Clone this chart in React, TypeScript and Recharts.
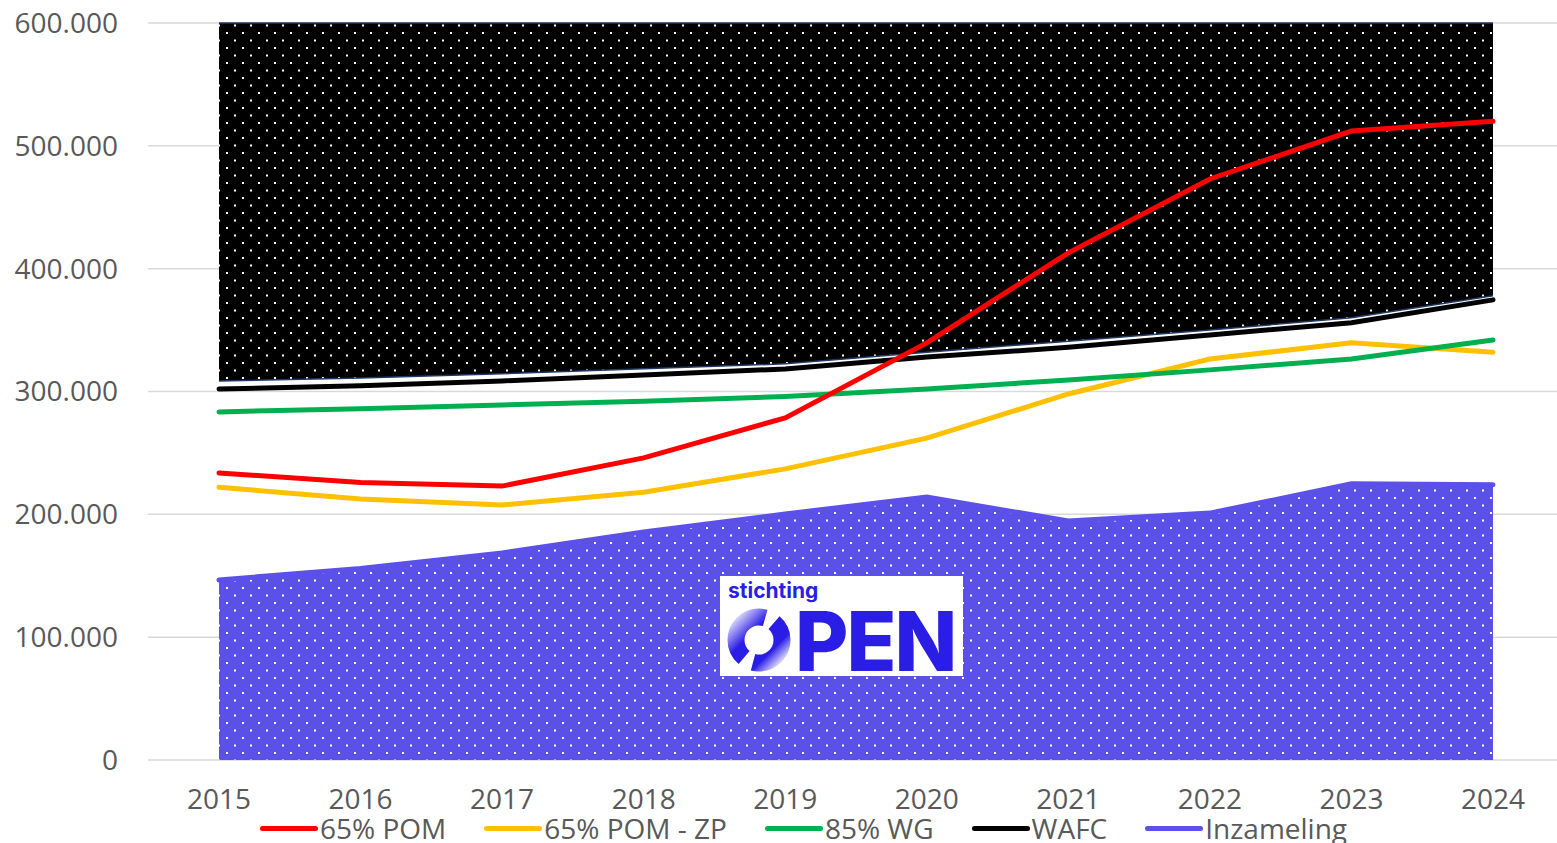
import React from "react"
import {
  ComposedChart,
  Area,
  Line,
  XAxis,
  YAxis,
  CartesianGrid,
  Legend,
} from "recharts"

const years = ["2015", "2016", "2017", "2018", "2019", "2020", "2021", "2022", "2023", "2024"]

const pom65 = [233700, 226000, 223000, 246000, 278500, 339600, 412900, 473000, 512000, 520000]
const pom65zp = [222000, 212500, 207600, 218000, 237000, 262000, 298000, 326500, 339600, 332000]
const wg85 = [283400, 286000, 289000, 292000, 296000, 302000, 309400, 317600, 326500, 342000]
const wafc = [302000, 304600, 308600, 313500, 318400, 328000, 336000, 346000, 356000, 374600]
const inzameling = [146600, 156000, 168600, 185700, 200300, 214000, 194600, 201000, 224800, 224000]

// dark dotted band above the WAFC line
const bandLow = [308600, 311000, 314500, 318500, 322500, 332000, 341000, 350000, 360000, 378000]
const bandHigh = [600000, 600000, 600000, 600000, 600000, 600000, 600000, 600000, 600000, 600000]

const yTicks = [0, 100000, 200000, 300000, 400000, 500000, 600000]

const legendItems = [
  { name: "65% POM", color: "#ff0000" },
  { name: "65% POM - ZP", color: "#ffc000" },
  { name: "85% WG", color: "#00b050" },
  { name: "WAFC", color: "#000000" },
  { name: "Inzameling", color: "#5b50e8" },
]

const data = years.map((year, i) => ({
  year,
  pom65: pom65[i],
  pom65zp: pom65zp[i],
  wg85: wg85[i],
  wafc: wafc[i],
  inzameling: inzameling[i],
  band: [bandLow[i], bandHigh[i]],
}))

const fmt = (v: number) => String(v).replace(/\B(?=(\d{3})+(?!\d))/g, ".")

const font = "'Open Sans', sans-serif"

function ChartLegend() {
  return (
    <div style={{ display: "flex", height: 28, alignItems: "center", paddingLeft: 260, fontFamily: font, fontSize: 28, color: "#595959" }}>
      {legendItems.map((item) => (
        <div key={item.name} style={{ display: "flex", alignItems: "center", marginRight: 38 }}>
          <div style={{ width: 58, height: 5, borderRadius: 3, background: item.color, marginRight: 2 }} />
          <span style={{ lineHeight: "28px", whiteSpace: "nowrap" }}>{item.name}</span>
        </div>
      ))}
    </div>
  )
}

function Logo() {
  return (
    <svg
      width={243}
      height={100}
      style={{ position: "absolute", left: 720, top: 576, background: "#ffffff", overflow: "visible" }}
    >
      <defs>
        <linearGradient id="ringGrad" x1="0" y1="0" x2="1" y2="1">
          <stop offset="0%" stopColor="#2a1de6" stopOpacity={0.15} />
          <stop offset="35%" stopColor="#2a1de6" />
          <stop offset="75%" stopColor="#2a1de6" />
          <stop offset="100%" stopColor="#2a1de6" stopOpacity={0.1} />
        </linearGradient>
      </defs>
      <text x={8} y={22} fontFamily="Inter, sans-serif" fontWeight={700} fontSize={21} fill="#2a1de6">
        stichting
      </text>
      <circle
        cx={39}
        cy={64}
        r={23}
        fill="none"
        stroke="url(#ringGrad)"
        strokeWidth={17}
        strokeDasharray="62 10 62 10"
        strokeDashoffset={20}
      />
      <text x={75} y={95} fontFamily="Inter, sans-serif" fontWeight={800} fontSize={82} letterSpacing={-2} fill="#2a1de6">
        PEN
      </text>
    </svg>
  )
}

export default function App() {
  return (
    <div style={{ position: "absolute", left: 0, top: 0, width: 1557, height: 843, overflow: "hidden", background: "#fff" }}>
      <ComposedChart
        width={1564}
        height={850}
        data={data}
        margin={{ top: 23, right: 0, left: 0, bottom: 8 }}
      >
        <defs>
          <pattern id="dotsBlack" width={16} height={15} patternUnits="userSpaceOnUse">
            <rect width={16} height={15} fill="#000000" />
            <rect x={2} y={2} width={2} height={2} fill="#ffffff" />
            <rect x={10} y={9.5} width={2} height={2} fill="#ffffff" />
          </pattern>
          <pattern id="dotsPurple" width={16} height={15} patternUnits="userSpaceOnUse">
            <rect width={16} height={15} fill="#5b50e8" />
            <rect x={2} y={2} width={2} height={2} fill="#ffffff" />
            <rect x={10} y={9.5} width={2} height={2} fill="#ffffff" />
          </pattern>
        </defs>
        <CartesianGrid vertical={false} stroke="#d9d9d9" strokeWidth={1.5} />
        <XAxis
          dataKey="year"
          axisLine={false}
          tickLine={false}
          tickSize={0}
          tickMargin={29}
          height={54}
          padding={{ left: 71, right: 71 }}
          tick={{ fill: "#595959", fontSize: 28, fontFamily: font }}
        />
        <YAxis
          type="number"
          domain={[0, 600000]}
          ticks={yTicks}
          tickFormatter={fmt}
          axisLine={false}
          tickLine={false}
          tickSize={0}
          tickMargin={30}
          width={148}
          tick={{ fill: "#595959", fontSize: 28, fontFamily: font }}
        />
        <Legend verticalAlign="bottom" content={() => <ChartLegend />} />
        <Area
          dataKey="band"
          type="linear"
          fill="url(#dotsBlack)"
          fillOpacity={1}
          stroke="#1f3864"
          strokeWidth={1.5}
          isAnimationActive={false}
          legendType="none"
        />
        <Area
          dataKey="inzameling"
          type="linear"
          fill="url(#dotsPurple)"
          fillOpacity={1}
          stroke="none"
          isAnimationActive={false}
          legendType="none"
        />
        <Line dataKey="inzameling" stroke="#5b50e8" strokeWidth={5} strokeLinecap="round" dot={false} isAnimationActive={false} />
        <Line dataKey="pom65zp" stroke="#ffc000" strokeWidth={5} strokeLinecap="round" dot={false} isAnimationActive={false} />
        <Line dataKey="wg85" stroke="#00b050" strokeWidth={5} strokeLinecap="round" dot={false} isAnimationActive={false} />
        <Line dataKey="wafc" stroke="#000000" strokeWidth={5} strokeLinecap="round" dot={false} isAnimationActive={false} />
        <Line dataKey="pom65" stroke="#ff0000" strokeWidth={5} strokeLinecap="round" dot={false} isAnimationActive={false} />
      </ComposedChart>
      <Logo />
    </div>
  )
}
